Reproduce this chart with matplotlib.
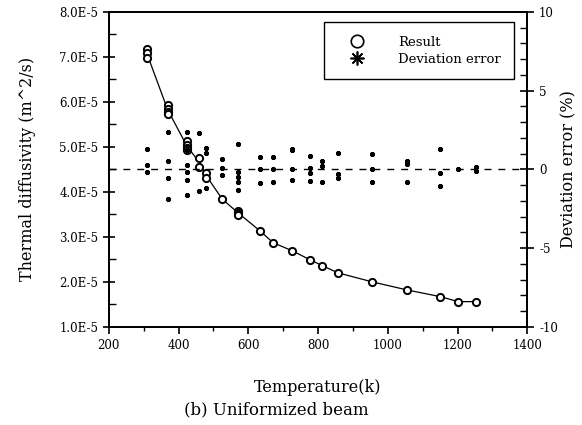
import numpy as np
import matplotlib.pyplot as plt
from matplotlib.ticker import MultipleLocator, FuncFormatter
from matplotlib.lines import Line2D

plt.rcParams['font.family'] = ['DejaVu Serif']

## data

# thermal diffusivity (several runs at each temperature)
temp = [309, 309, 309, 369, 369, 369, 369, 424, 424, 424, 424, 459, 459,
        479, 479, 525, 571, 571, 571, 634, 671, 726, 777, 812, 857, 955,
        1055, 1151, 1202, 1253]
diff = [7.17, 7.08, 6.98, 5.93, 5.85, 5.78, 5.72, 5.12, 5.05, 4.98, 4.92,
        4.76, 4.56, 4.42, 4.31, 3.84, 3.57, 3.53, 3.49, 3.13, 2.87, 2.69,
        2.49, 2.36, 2.20, 2.00, 1.82, 1.67, 1.56, 1.56]
diff = np.array(diff) * 1e-5

# deviation error (%)
dev_t = [309, 309, 309, 369, 369, 369, 369, 424, 424, 424, 424, 424, 424,
         459, 459, 479, 479, 479, 525, 525, 525, 571, 571, 571, 571, 571,
         634, 634, 634, 671, 671, 671, 726, 726, 726, 726, 777, 777, 777, 777,
         812, 812, 812, 857, 857, 857, 955, 955, 955, 1055, 1055, 1055,
         1151, 1151, 1151, 1202, 1253, 1253]
dev = [1.3, 0.29, -0.14, 2.4, 0.5, -0.56, -1.9, 2.4, 1.24, 0.29, -0.14,
       -0.67, -1.62, 2.3, -1.37, 1.35, 1.03, -1.2, 0.65, 0.08, -0.35,
       1.6, -0.14, -0.46, -0.8, -1.3, 0.81, 0.0, -0.84, 0.77, 0.0, -0.8,
       1.3, 1.24, 0.0, -0.67, 0.86, 0.08, -0.2, -0.71, 0.5, 0.22, -0.81,
       1.03, -0.3, -0.56, 0.98, 0.0, -0.81, 0.56, 0.35, -0.81, 1.3, -0.2,
       -1.05, 0.0, 0.17, -0.08]

## plot

fig = plt.figure(figsize=(5.82, 4.25), dpi=100)
ax = fig.add_axes([0.187, 0.231, 0.719, 0.741])
ax2 = ax.twinx()

t_u = np.unique(temp)
d_mean = [np.mean(diff[np.array(temp) == t]) for t in t_u]
ax.plot(t_u, d_mean, color="black", lw=0.9, zorder=2)
ax.plot(temp, diff, "o", mfc="white", mec="black", ms=5.2, mew=1.4, zorder=3)

ax2.axhline(0, color="black", lw=1.0, ls=(0, (5, 5)), zorder=1)
ax2.plot(dev_t, dev, ls="none", marker=(8, 2, 0), color="black",
         ms=3.5, mew=1.7)

ax.set_xlim(200, 1400)
ax.set_ylim(1e-5, 8e-5)
ax2.set_ylim(-10, 10)

ax.xaxis.set_major_locator(MultipleLocator(200))
ax.xaxis.set_minor_locator(MultipleLocator(100))
ax.yaxis.set_major_locator(MultipleLocator(1e-5))
ax.yaxis.set_minor_locator(MultipleLocator(0.5e-5))
ax.yaxis.set_major_formatter(FuncFormatter(lambda v, p: "%.1fE-5" % (v / 1e-5)))
ax2.yaxis.set_major_locator(MultipleLocator(5))
ax2.yaxis.set_minor_locator(MultipleLocator(1))
ax2.yaxis.set_major_formatter(FuncFormatter(lambda v, p: "%d" % v))

ax.tick_params(axis="x", which="major", direction="out", length=5, width=1.2, labelsize=8.5)
ax.tick_params(axis="x", which="minor", direction="out", length=3, width=1)
ax.tick_params(axis="y", which="major", direction="inout", length=8, width=1.2, labelsize=8.5)
ax.tick_params(axis="y", which="minor", direction="in", length=5, width=1)
ax2.tick_params(axis="y", which="major", direction="inout", length=10, width=1.2, labelsize=8.5)
ax2.tick_params(axis="y", which="minor", direction="in", length=5, width=1)

for a in (ax, ax2):
    for s in a.spines.values():
        s.set_linewidth(1.3)

ax.set_xlabel("Temperature(k)", fontsize=11.5, labelpad=20)
ax.set_ylabel("Thermal diffusivity (m^2/s)", fontsize=11.5, labelpad=17)
ax2.set_ylabel("Deviation error (%)", fontsize=11.5, labelpad=2)

handles = [Line2D([], [], ls="none", marker="o", mfc="white", mec="black", ms=9, mew=1.2),
           Line2D([], [], ls="none", marker=(8, 2, 0), color="black", ms=10, mew=1.2)]
leg = ax.legend(handles, ["Result", "Deviation error"], loc="upper right",
                bbox_to_anchor=(0.975, 0.975), fancybox=False, framealpha=1,
                edgecolor="black", fontsize=9.5, borderpad=1.0, handletextpad=1.6,
                handlelength=3.0, borderaxespad=0.2, labelspacing=0.3)
leg.get_frame().set_linewidth(1.0)

fig.text(0.475, 0.035, "(b) Uniformized beam", ha="center", va="center", fontsize=12)

fig.savefig("out.png", dpi=100)
